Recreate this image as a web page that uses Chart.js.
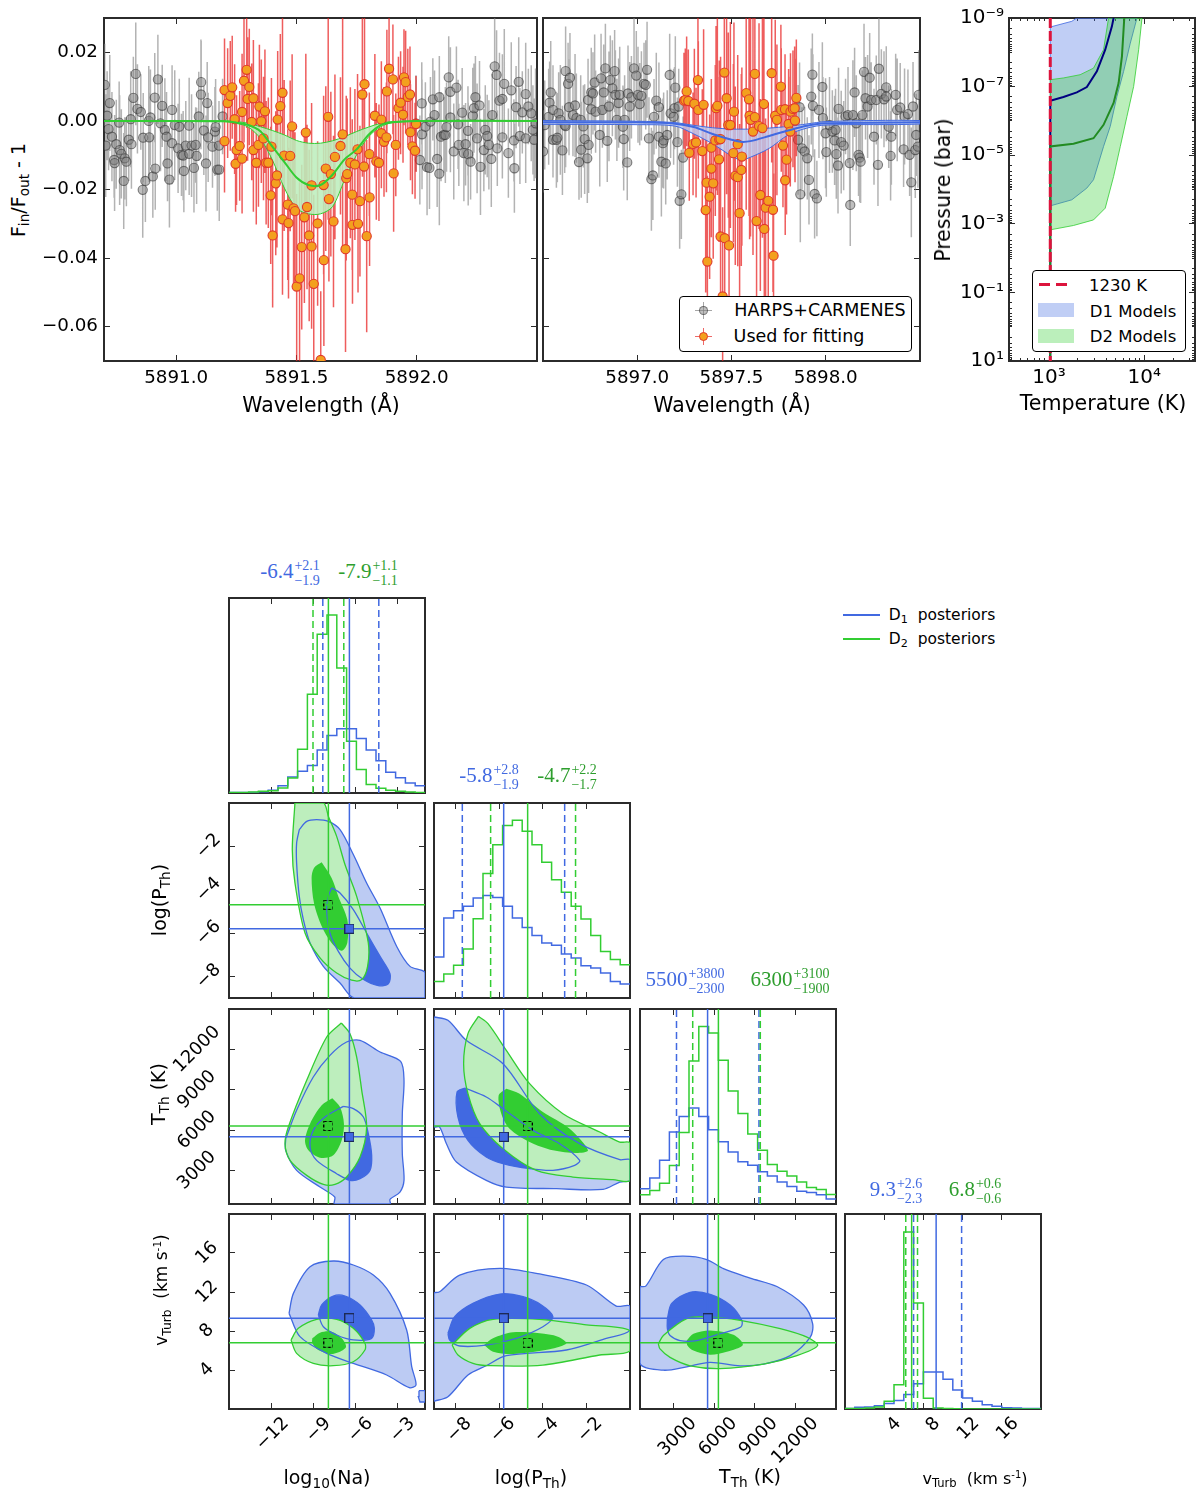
<!DOCTYPE html>
<html>
<head>
<meta charset="utf-8">
<title>Na transmission fits and posteriors</title>
<script src="https://cdn.jsdelivr.net/npm/chart.js@4"></script>
<style>
  body { margin: 0; background: #fff; width: 1200px; height: 1494px; position: relative; overflow: hidden; font-family: "DejaVu Sans", sans-serif; color: #000; }
  canvas { position: absolute; }
  .t { position: absolute; white-space: nowrap; transform: translate(-50%, -50%); z-index: 3; }
  .t sub { font-size: 72%; vertical-align: -0.3em; line-height: 0; }
  .t sup { font-size: 62%; vertical-align: 0.55em; line-height: 0; }
  .stat { font-family: "Liberation Serif", serif; font-size: 21px; }
  .stack { display: inline-block; vertical-align: middle; font-size: 14px; line-height: 15px; text-align: left; margin-left: 1px; }
  .stack b { display: block; font-weight: normal; }
  .box { position: absolute; background: #fff; border: 1.5px solid #000; border-radius: 4px; box-sizing: border-box; z-index: 2; }
  .mk { position: absolute; z-index: 3; }
</style>
</head>
<body>
<script>
// panel 1: D2 line, grey = out of fit, orange = used for fitting
const grayWaveD2 = [5890.703,5890.713,5890.724,5890.719,5890.707,5890.733,5890.742,5890.744,5890.751,5890.763,5890.765,5890.772,5890.782,5890.786,5890.793,5890.803,5890.814,5890.811,5890.822,5890.832,5890.839,5890.853,5890.861,5890.863,5890.872,5890.886,5890.888,5890.893,5890.903,5890.911,5890.913,5890.924,5890.935,5890.942,5890.953,5890.960,5890.964,5890.972,5890.983,5890.983,5890.994,5891.008,5891.013,5891.022,5891.029,5891.032,5891.040,5891.054,5891.054,5891.064,5891.074,5891.081,5891.085,5891.094,5891.104,5891.103,5891.115,5891.124,5891.129,5891.133,5891.151,5891.161,5891.164,5891.171,5891.179,5891.178,5891.193,
  5891.997,5892.013,5892.021,5892.022,5892.036,5892.043,5892.053,5892.057,5892.067,5892.074,5892.085,5892.094,5892.094,5892.101,5892.113,5892.119,5892.124,5892.133,5892.140,5892.140,5892.154,5892.165,5892.172,5892.175,5892.189,5892.196,5892.203,5892.214,5892.213,5892.224,5892.233,5892.238,5892.244,5892.251,5892.261,5892.265,5892.279,5892.285,5892.293,5892.300,5892.310,5892.314,5892.324,5892.332,5892.335,5892.344,5892.356,5892.356,5892.364,5892.381,5892.393,5892.404,5892.406,5892.413,5892.424,5892.429,5892.439,5892.453,5892.453,5892.464,5892.476,5892.483,5892.488,5892.494];
const grayFluxD2 = [.0105,.0015,.0052,-.0024,-.0072,-.0046,-.0114,-.0123,-.0068,-.0005,-.0085,-.0096,-.0175,-.0109,-.0119,-.0055,-.0068,.0005,.0067,.0137,.0035,.0026,-.0201,-.0049,-.0175,0,-.0048,.0010,-.0162,.0068,-.0139,.0121,-.0007,.0044,-.0026,-.0046,-.0124,-.0171,.0032,-.0065,-.0012,-.0080,-.0017,-.0099,-.0101,-.0146,-.0072,-.0014,-.0096,-.0072,-.0137,-.0070,-.0102,.0013,.0113,.0077,-.0028,-.0124,.0052,-.0048,-.0075,-.0031,-.0018,-.0142,-.0142,-.0072,.0013,
  -.0007,-.0114,.0051,-.0039,-.0017,-.0135,-.0137,-.0002,.0063,.0017,-.0111,.0069,-.0154,-.0046,-.0041,-.0041,-.0018,.0127,.0010,.0085,-.0089,.0097,-.0010,-.0070,.0024,-.0094,-.0068,-.0097,-.0029,-.0119,.0015,.0037,.0069,-.0051,.0045,-.0134,-.0085,-.0026,-.0044,-.0070,-.0111,.0017,.0159,.0134,-.0080,.0059,.0064,-.0048,.0108,-.0094,.0089,-.0057,-.0138,.0040,.0114,-.0044,.0025,.0078,-.0051,.0042,.0022,-.0026,-.0055,-.0007];
const fitWaveD2 = [5891.201,5891.201,5891.214,5891.225,5891.233,5891.243,5891.247,5891.251,5891.264,5891.274,5891.274,5891.282,5891.293,5891.297,5891.304,5891.314,5891.321,5891.321,5891.333,5891.342,5891.346,5891.354,5891.363,5891.369,5891.374,5891.383,5891.393,5891.396,5891.401,5891.414,5891.419,5891.422,5891.433,5891.442,5891.442,5891.449,5891.464,5891.467,5891.474,5891.482,5891.488,5891.494,5891.501,5891.513,5891.522,5891.533,5891.539,5891.544,5891.553,5891.563,5891.563,5891.572,5891.588,5891.601,5891.613,5891.614,5891.622,5891.632,5891.635,5891.643,5891.654,5891.660,5891.683,5891.692,5891.704,5891.707,5891.711,5891.724,5891.732,5891.733,5891.743,5891.754,5891.756,5891.764,5891.774,5891.781,5891.783,5891.792,5891.803,5891.804,5891.826,5891.832,5891.843,5891.853,5891.853,5891.864,5891.874,5891.876,5891.885,5891.901,5891.904,5891.913,5891.924,5891.933,5891.943,5891.947,5891.954,5891.963,5891.972,5891.974,5891.982,5891.993,5891.997];
const fitFluxD2 = [.0090,-.0059,.0052,.0073,.0098,.0005,-.0125,-.0085,-.0073,.0026,-.0110,.0117,.0149,.0064,.0099,-.0003,.0066,-.0085,-.0122,-.0070,.0042,-.0001,-.0051,.0028,-.0122,-.0122,-.0217,-.0075,-.0334,-.0182,-.0159,.0004,.0043,.0082,-.0287,-.0101,-.0244,-.0298,-.0102,-.0016,-.0255,-.0263,-.0483,-.0459,-.0368,-.0281,-.0034,-.0251,-.0334,-.0366,-.0188,-.0475,-.0299,-.0697,-.0187,-.0406,-.0139,.0012,-.0228,-.0155,-.0293,-.0105,-.0073,-.0039,-.0374,-.0167,-.0155,-.0122,-.0215,-.0303,-.0127,-.0083,-.0300,-.0234,.0077,-.0133,.0107,-.0336,-.0097,-.0223,.0015,-.0118,-.0122,.0004,-.0036,-.0061,-.0048,.0086,.0152,.0121,-.0153,-.0070,.0037,.0053,.0018,.0127,.0113,.0070,.0077,-.0033,-.0074,-.0087,-.0009];
const fitErrD2 = [.015,.015,.016,.016,.015,.016,.014,.016,.016,.017,.016,.018,.017,.018,.017,.017,.017,.018,.018,.018,.018,.018,.018,.018,.018,.019,.020,.020,.021,.021,.021,.020,.021,.024,.022,.022,.022,.022,.022,.021,.023,.023,.027,.028,.024,.025,.023,.024,.025,.024,.024,.026,.024,.020,.026,.025,.024,.030,.024,.024,.025,.024,.020,.034,.030,.024,.022,.022,.022,.023,.022,.022,.020,.022,.024,.020,.024,.028,.018,.020,.018,.017,.017,.017,.016,.016,.016,.018,.016,.016,.017,.015,.015,.015,.014,.014,.015,.014,.014,.014,.014,.014,.014];
const modelWaveD2 = [5890.7,5891.2,5891.25,5891.3,5891.35,5891.4,5891.45,5891.5,5891.55,5891.6,5891.65,5891.7,5891.75,5891.8,5891.85,5891.9,5892,5892.5];
const modelMedD2 = [0,-.0001,-.0005,-.0012,-.0030,-.0075,-.0120,-.0165,-.0187,-.0187,-.0157,-.0112,-.0083,-.0040,-.0012,-.0004,0,0];
const modelHighD2 = [0,0,-.0002,-.0007,-.0017,-.0028,-.0041,-.0057,-.0065,-.0065,-.0058,-.0046,-.0031,-.0018,-.0007,-.0002,0,0];
const modelLowD2 = [0,-.0002,-.0007,-.0018,-.0051,-.0114,-.0196,-.0255,-.0271,-.0271,-.0250,-.0172,-.0099,-.0046,-.0017,-.0005,-.0001,0];

// panel 2: D1 line
const grayWaveD1 = [5896.500,5896.509,5896.530,5896.535,5896.541,5896.553,5896.553,5896.571,5896.576,5896.583,5896.592,5896.603,5896.615,5896.620,5896.620,5896.633,5896.643,5896.638,5896.659,5896.670,5896.677,5896.691,5896.703,5896.700,5896.714,5896.721,5896.735,5896.742,5896.739,5896.756,5896.765,5896.756,5896.774,5896.779,5896.801,5896.808,5896.815,5896.822,5896.831,5896.841,5896.850,5896.857,5896.868,5896.880,5896.884,5896.892,5896.901,5896.907,5896.924,5896.928,5896.933,5896.947,5896.951,5896.960,5896.969,5896.983,5896.995,5897.004,5897.013,5897.022,5897.036,5897.045,5897.052,5897.062,5897.075,5897.083,5897.089,5897.101,5897.115,5897.115,5897.128,5897.136,5897.140,5897.151,5897.159,5897.172,5897.177,5897.193,5897.198,5897.202,5897.213,5897.220,5897.225,5897.234,5897.243,
  5897.853,5897.861,5897.865,5897.874,5897.888,5897.902,5897.911,5897.923,5897.929,5897.932,5897.941,5897.953,5897.964,5897.982,5897.985,5897.999,5898.003,5898.020,5898.035,5898.047,5898.052,5898.056,5898.065,5898.068,5898.082,5898.095,5898.105,5898.118,5898.127,5898.130,5898.144,5898.153,5898.162,5898.174,5898.180,5898.185,5898.194,5898.203,5898.211,5898.222,5898.233,5898.241,5898.256,5898.268,5898.277,5898.282,5898.295,5898.309,5898.321,5898.321,5898.334,5898.344,5898.348,5898.371,5898.379,5898.395,5898.413,5898.418,5898.436,5898.445,5898.454,5898.463,5898.475,5898.480,5898.493,5898.489];
const grayFluxD1 = [-.0089,-.0012,.0012,.0053,.0083,.0032,-.0055,-.0055,-.0049,.0022,.0003,-.0086,-.0012,-.0015,.0145,.0108,.0126,.0040,.0017,.0045,.0008,-.0120,-.0084,.0003,-.0016,-.0053,-.0109,-.0070,.0061,.0083,.0080,.0034,.0112,.0027,-.0041,.0124,.0032,.0083,.0153,-.0058,.0042,.0119,.0095,.0145,.0076,.0003,.0052,.0076,-.0017,-.0053,.0003,-.0121,.0080,.0042,.0069,.0153,.0132,.0076,.0049,.0073,.0108,.0105,.0149,-.0051,-.0170,-.0159,.0012,.0059,.0040,-.0046,-.0119,-.0065,-.0057,-.0124,-.0041,.0134,.0022,.0012,.0037,.0097,-.0062,.0042,-.0233,-.0214,-.0107,
  -.0055,.0040,-.0214,-.0080,-.0089,-.0109,-.0172,.0071,.0135,.0044,-.0213,-.0226,.0032,.0099,.0008,-.0036,-.0091,-.0012,-.0031,-.0057,-.0026,-.0097,-.0130,.0035,-.0062,-.0072,.0013,.0017,-.0123,-.0245,.0017,.0083,-.0007,-.0099,-.0107,-.0119,.0017,.0143,.0066,.0042,.0126,.0061,-.0046,.0061,-.0128,.0152,.0079,.0063,.0098,.0071,-.0017,-.0102,-.0046,.0076,.0032,.0039,-.0083,.0013,.0020,-.0099,-.0179,.0042,-.0085,-.0041,.0076,-.0075];
const fitWaveD1 = [5897.248,5897.255,5897.262,5897.271,5897.276,5897.296,5897.303,5897.312,5897.322,5897.324,5897.345,5897.352,5897.363,5897.368,5897.372,5897.384,5897.393,5897.393,5897.403,5897.414,5897.418,5897.425,5897.435,5897.434,5897.442,5897.442,5897.453,5897.464,5897.462,5897.474,5897.483,5897.487,5897.494,5897.510,5897.513,5897.520,5897.533,5897.533,5897.543,5897.552,5897.555,5897.578,5897.593,5897.596,5897.601,5897.614,5897.624,5897.624,5897.633,5897.646,5897.653,5897.664,5897.672,5897.674,5897.681,5897.695,5897.713,5897.720,5897.723,5897.732,5897.741,5897.762,5897.764,5897.773,5897.784,5897.785,5897.792,5897.803,5897.812,5897.813,5897.826,5897.835,5897.837,5897.844];
const fitFluxD1 = [.0059,.0061,.0086,.0058,-.0093,-.0067,.0050,-.0063,.0119,.0032,-.0088,.0047,-.0260,-.0180,-.0410,-.0221,-.0078,-.0139,-.0182,-.0057,.0037,.0044,-.0054,-.0112,-.0337,-.0053,-.0512,-.0342,.0141,.0066,-.0012,-.0363,-.0012,-.0094,.0027,-.0160,-.0068,-.0164,-.0269,-.0143,-.0104,.0081,.0063,.0015,.0003,-.0031,.0011,.0137,-.0292,-.0015,-.0216,-.0021,.0049,-.0315,-.0253,-.0233,.0139,-.0259,-.0393,.0015,.0003,.0100,.0032,-.0072,.0034,-.0173,-.0113,-.0009,-.0031,.0027,.0035,.0037,.0001,.0067];
const fitErrD1 = [.014,.015,.016,.015,.014,.015,.016,.016,.022,.020,.018,.022,.024,.023,.025,.024,.020,.020,.022,.022,.024,.026,.023,.024,.026,.024,.026,.027,.025,.028,.027,.026,.030,.026,.026,.026,.026,.026,.026,.028,.026,.034,.034,.036,.034,.036,.030,.032,.028,.030,.028,.032,.030,.026,.026,.028,.026,.024,.024,.028,.022,.018,.018,.018,.016,.016,.016,.016,.016,.017,.017,.018,.018,.017];
const modelWaveD1 = [5896.5,5897,5897.2,5897.3,5897.4,5897.5,5897.55,5897.6,5897.7,5897.8,5897.9,5898,5898.5];
const modelMedD1 = [-.0004,-.0004,-.0008,-.0018,-.0038,-.0055,-.0061,-.0059,-.0044,-.0028,-.0014,-.0007,-.0004];
const modelHighD1 = [.0001,-.0001,-.0005,-.0013,-.0020,-.0024,-.0024,-.0024,-.0021,-.0016,-.0009,-.0002,.0001];
const modelLowD1 = [-.0010,-.0011,-.0015,-.0038,-.0067,-.0102,-.0114,-.0106,-.0080,-.0041,-.0021,-.0012,-.0009];
const grayErrSample = [.012,.013,.014,.012,.015,.013,.011,.014,.013,.012,.016,.013,.014,.012,.013];

const fluxTicks = [.02,0,-.02,-.04,-.06];
const waveTicksD2 = [5891,5891.5,5892];
const waveTicksD1 = [5897,5897.5,5898];

// panel 3: temperature-pressure profiles, the dashed line sits just right of the 10^3 tick
const tpIso = 1030;
const tpD1T = [1030,1732,1955,8371,7122,6060,5157,4385,3732,2928,2492,1732,1030];
const tpD1P = [1.83e-9,1.25e-9,1e-9,1e-9,5.4e-9,3.6e-8,1.93e-7,1.45e-6,5.56e-6,5.2e-5,9.1e-5,2e-4,3e-4];
const tpD2T = [1030,1416,2120,2928,3732,4213,9450,8717,7723,6568,5590,4756,3886,2928,1804,1030];
const tpD2P = [6.3e-8,5.6e-8,4.5e-8,2.9e-8,8.4e-9,1e-9,1e-9,8.4e-9,9.9e-8,7.4e-7,5.6e-6,4.2e-5,3.5e-4,7.7e-4,1.12e-3,1.5e-3];
const tpMedD1T = [1030,1030,1416,1955,2492,3175,3886,4567,4756];
const tpMedD1P = [10,2.6e-7,2e-7,1.48e-7,1.03e-7,3.6e-8,8.4e-9,1.75e-9,1e-9];
const tpMedD2T = [1030,1030,1804,2928,3732,4756,5369,5820,6158];
const tpMedD2P = [10,5.56e-6,4.65e-6,3.2e-6,1.3e-6,3e-7,7.9e-8,1.31e-8,1e-9];
const tpXTicks = [1000,10000];
const tpXLabels = ['10³','10⁴'];
const tpYTicks = [1e-9,1e-7,1e-5,1e-3,1e-1,10];
const tpYLabels = ['10⁻⁹','10⁻⁷','10⁻⁵','10⁻³','10⁻¹','10¹'];

// corner plot: log10(Na), log(PTh), TTh, vTurb
const paramMin = [-15,-9,500,0];
const paramMax = [-1,0,15000,20];
const paramTicks = [[-12,-9,-6,-3],[-8,-6,-4,-2],[3000,6000,9000,12000],[4,8,12,16]];
const d1Median = [-6.4,-5.8,5500,9.3];
const d1Plus = [2.1,2.8,3800,2.6];
const d1Minus = [1.9,1.9,2300,2.3];
const d2Median = [-7.9,-4.7,6300,6.8];
const d2Plus = [1.1,2.2,3100,.6];
const d2Minus = [1.1,1.7,1900,.6];

const histNaD1 = [.2,.2,.3,.7,1.4,3.7,8.2,11.1,14.1,22.1,29.5,33,33,28,22.1,16.5,10.7,7.8,5.1,3.7];
const histNaD2 = [.2,.3,.5,.9,1.2,2.6,7.7,22.5,50.6,81.4,91.3,64.1,26.6,12,4.4,2.4,1.4,.9,.5,.3];
const histPD1 = [21,41,44.8,47,51.3,52.6,51.6,47,41,36.2,32,28.2,27,22.6,20.5,16.6,15.4,12.8,8.5,7.2];
const histPD2 = [8.5,12.3,16.8,25.1,40.7,63.8,78.6,88.4,91.1,85.5,78.6,69.6,60.7,54.2,47,40.5,32,23.9,19.7,17.1];
const histTD1 = [7.8,13.3,22.4,36.9,44.9,49.2,44.9,38.1,31.9,26.7,21.7,19.9,16.5,14.4,11.3,9,6.6,5.9,4.7,2.6];
const histTD2 = [4.7,6.9,10.7,19.8,36.7,73.3,91,87.7,73.7,57.9,46.4,35.9,27.6,20.3,16.8,14.4,11.3,8.5,7.5,4.9];
const histVD1 = [.2,.9,1,1.7,2.8,4.3,7.4,13,19,19,15.2,9.7,5.7,4,2.2,1.4,.7,.5,.2,.2];
const histVD2 = [.2,.3,.5,1,4,12.5,90.8,54.3,5.5,.5,.2,.1,0,0,0,0,0,0,0,0];

// contours, x list then y list. outer = 2 sigma, inner = 1 sigma
const naPD1OuterX = [-9.98,-9.45,-8.74,-7.9,-7.07,-6.12,-5.17,-4.21,-3.02,-2.07,-1,-1,-6.05,-7.07,-8.26,-9.21,-9.69,-9.98,-10.17,-10.17];
const naPD1OuterY = [-1.23,-.85,-.77,-.85,-1.23,-2.38,-3.69,-4.85,-6.62,-7.54,-7.82,-9,-9,-8.31,-7.54,-6.46,-5.38,-4.31,-2.77,-1.85];
const naPD1InnerX = [-7.67,-7.07,-6.12,-5.17,-4.21,-3.5,-3.62,-4.33,-5.45,-6.36,-7.19,-7.79,-8.02,-7.9];
const naPD1InnerY = [-3.92,-4.15,-4.92,-6,-7.08,-7.88,-8.35,-8.43,-8.12,-7.62,-6.85,-6,-4.92,-4.31];
const naPD2OuterX = [-10.29,-8.26,-7.9,-7.31,-6.71,-5.88,-5.05,-5.1,-5.52,-6.24,-7.31,-8.5,-9.57,-10.29,-10.48];
const naPD2OuterY = [0,0,-.62,-1.54,-2.85,-4.31,-6.46,-7.54,-8.15,-8.18,-7.85,-7.15,-6,-3.69,-2.15];
const naPD2InnerX = [-8.38,-7.67,-7.19,-6.55,-6.55,-6.95,-7.67,-8.38,-8.93,-9.1,-8.93];
const naPD2InnerY = [-2.74,-3.46,-4.31,-5.38,-6.46,-6.82,-6.46,-5.69,-4.62,-3.46,-3];

const naTD1OuterX = [-10.95,-10.17,-8.98,-7.79,-6.6,-5.64,-4.21,-2.74,-2.5,-2.62,-2.62,-2.5,-2.79,-3.5,-3.5,-7.45,-7.45,-8.5,-10.17,-10.95];
const naTD1OuterY = [5357,7464,9943,11554,12546,12670,11802,11108,9695,7216,4241,2257,1390,845,500,500,1018,1762,3002,4489];
const naTD1InnerX = [-6.83,-6.12,-5.4,-5.05,-4.81,-4.93,-5.64,-6.36,-7.31,-8.74,-9.21,-8.98,-8.14];
const naTD1InnerY = [7761,7588,6968,5728,4117,3002,2382,2257,2754,3745,4737,5976,6968];
const naTD2OuterX = [-6.98,-6.36,-5.88,-5.52,-5.17,-5.64,-6.6,-7.43,-8.26,-9.45,-10.64,-11,-10.76,-9.45,-8.02];
const naTD2OuterY = [13959,13166,11430,8951,6224,3993,2506,1960,1960,2630,3745,4985,6224,9695,12918];
const naTD2InnerX = [-7.62,-7.07,-6.79,-6.95,-7.55,-8.5,-9.33,-9.57,-9.21,-8.38];
const naTD2InnerY = [8356,7712,6472,5233,4117,3944,4489,5233,6472,7836];

const naVD1OuterX = [-10.71,-10.4,-9.21,-7.55,-6.12,-4.69,-3.5,-2.31,-1.95,-1.64,-2.12,-3.74,-6.12,-8.02,-9.93];
const naVD1OuterY = [9.81,11.86,14.6,15.18,14.77,13.74,11.86,8.1,4.34,2.46,2.19,3.49,4.68,5.71,7.42];
const naVD1BlobX = [-1.43,-1,-1,-1.36,-1.48];
const naVD1BlobY = [1.88,1.88,.72,.72,1.26];
const naVD1InnerX = [-8.62,-8.38,-7.55,-6.71,-5.64,-4.81,-4.62,-4.81,-6.12,-7.31,-8.26];
const naVD1InnerY = [9.64,10.67,11.59,11.59,10.67,9.13,8.27,7.25,7.08,7.59,8.44];
const naVD2OuterX = [-10.57,-10.05,-8.74,-7.31,-6.12,-5.29,-5.29,-6.12,-7.55,-8.98,-10.17];
const naVD2OuterY = [7.08,8.27,9.2,9.2,8.27,6.74,6.05,4.85,4.44,4.68,5.71];
const naVD2InnerX = [-9.05,-8.5,-7.67,-6.95,-6.64,-7.07,-7.79,-8.62,-9.05];
const naVD2InnerY = [7.25,7.83,7.93,7.25,6.39,5.88,5.64,6.05,6.74];

const pTD1OuterX = [-9,-8.36,-7.52,-5.83,-4.15,-2.31,-.47,0,0,-.47,-1.24,-3.38,-5.68,-6.6,-7.97,-8.43,-8.74,-9];
const pTD1OuterY = [14405,14157,12670,10934,7216,4985,3795,3795,2257,2134,1589,1638,1762,2257,3622,4985,6224,6270];
const pTD1InnerX = [-7.59,-6.6,-5.83,-4.45,-3.23,-2.31,-2.54,-3.54,-4.61,-5.83,-6.6,-7.44,-7.9,-7.94];
const pTD1InnerY = [9125,8455,7588,5976,4985,3745,3373,3002,3126,3497,3993,5233,6968,8827];
const pTD2OuterX = [-6.96,-6.52,-5.68,-4.61,-3.08,-1.39,-.47,0,0,-.78,-2.62,-4.3,-5.83,-6.9,-7.44,-7.64,-7.44];
const pTD2OuterY = [14455,13909,11926,9447,7216,5852,5109,5034,2257,2307,2506,3002,4613,6472,8703,10934,13166];
const pTD2InnerX = [-5.68,-5.07,-4,-2.77,-1.93,-2.46,-3.54,-4.61,-5.53,-5.91,-6.03];
const pTD2InnerY = [9075,8703,7340,6100,4489,4291,4489,5109,6100,7216,8579];

const pVD1OuterX = [-9,-8.74,-7.82,-5.98,-4.15,-2,-.63,0,0,-1.09,-2.92,-5.68,-6.6,-7.44,-8.36,-8.97,-9];
const pVD1OuterY = [11.93,12.03,13.74,14.43,13.85,12.72,10.56,10.56,8.1,7.25,6.05,5.47,4.44,3.49,1.26,.82,.82];
const pVD1InnerX = [-8.36,-8.05,-7.21,-5.98,-4.91,-4.07,-3.54,-4,-5.22,-6.6,-7.82,-8.28];
const pVD1InnerY = [7.76,9.47,10.84,11.79,11.52,10.67,9.47,8.44,7.25,6.56,6.46,7.08];
const pVD2OuterX = [-8.17,-7.36,-6.29,-4.15,-2,0,0,-1.39,-4,-6.44,-7.21,-7.9];
const pVD2OuterY = [6.56,8.27,9.2,9.2,8.62,8.03,5.95,5.54,4.51,4.44,4.68,5.54];
const pVD2InnerX = [-6.7,-6.29,-5.37,-4.15,-3.31,-2.92,-3.69,-5.37,-6.29];
const pVD2InnerY = [6.56,7.25,7.86,7.76,7.42,6.74,6.12,5.64,5.88];

const tVD1OuterX = [500,945,2229,3711,5440,6675,8651,10627,12603,13270,13097,11615,9639,7910,5687,3958,2229,500];
const tVD1OuterY = [12.56,12.63,15.33,15.67,15.33,14.39,13.43,12.56,10.66,8.75,7.37,5.47,4.6,4.43,4.78,4.33,3.98,4.71];
const tVD1InnerX = [2525,2847,4205,5687,7169,8034,7959,6428,4699,3464,2723,2525];
const tVD1InnerY = [9.27,10.83,11.97,11.76,10.66,9.1,8.41,7.72,7.02,7.02,7.54,8.24];
const tVD2OuterX = [1859,2229,3958,5440,7910,10874,12850,13640,12109,9639,6428,4205,2723,1982];
const tVD2OuterY = [6.68,7.54,9.27,9.45,9.1,8.24,7.37,6.51,5.47,4.6,4.15,4.43,5.29,6.16];
const tVD2InnerX = [3958,4452,5687,7416,8108,6922,5687,4452,4007];
const tVD2InnerY = [7.02,7.72,8.06,7.61,6.57,5.88,5.57,5.99,6.51];

const BLUE = '#4169e1', GREEN = '#32cd32', FRAME = '#2b2b2b';
const LIGHT_BLUE = '#bccbf3', LIGHT_GREEN = '#bdeebd';
const minus = v => String(v).replace('-', '\u2212');
const pts = (xs, ys) => xs.map((x, i) => ({ x, y: ys[i] }));
const closed = (xs, ys) => pts(xs.concat(xs[0]), ys.concat(ys[0]));

// one frame axis with inward ticks, its thickness is forced so the plot box lands where we want
function axis(pos, lim, vals, o = {}) {
  const len = o.len === undefined ? 6 : o.len;
  return {
    type: lim.log ? 'logarithmic' : 'linear',
    position: pos, min: lim.min, max: lim.max, reverse: !!lim.reverse,
    weight: o.fmt ? 1 : 0,
    border: { display: true, color: FRAME, width: 2 },
    grid: { drawOnChartArea: false, drawTicks: true, tickLength: -len, color: FRAME, lineWidth: 1 },
    ticks: {
      display: !!o.fmt, autoSkip: false, padding: len + (o.pad || 6), color: '#000',
      font: { family: 'DejaVu Sans', size: o.size || 18 }, callback: o.fmt,
      minRotation: o.rot || 0, maxRotation: o.rot || 0,
      crossAlign: o.cross || 'near', labelOffset: o.offset || 0
    },
    afterBuildTicks: s => { s.ticks = vals.map(v => ({ value: v })); },
    afterFit: s => {
      if (pos === 'bottom' || pos === 'top') s.height = o.thick || 0; else s.width = o.thick || 0;
      s.paddingLeft = s.paddingRight = s.paddingTop = s.paddingBottom = 0;
    }
  };
}

function panel(box, m, scales, datasets) {
  const c = document.createElement('canvas');
  c.width = box.w + m.l + m.r;
  c.height = box.h + m.t + m.b;
  c.style.left = (box.x - m.l) + 'px';
  c.style.top = (box.y - m.t) + 'px';
  document.body.appendChild(c);
  // later entries in the list paint on top
  datasets.forEach((d, i) => { d.order = datasets.length - i; d.pointRadius = d.pointRadius || 0; });
  return new Chart(c, {
    type: 'scatter',
    data: { datasets },
    options: {
      responsive: false, animation: false, events: [],
      layout: { autoPadding: false, padding: { left: 0, top: m.t, right: m.r, bottom: 0 } },
      plugins: { legend: { display: false }, tooltip: { enabled: false } },
      scales
    }
  });
}

const line = (data, color, width, extra = {}) => Object.assign({ data, showLine: true, borderColor: color, borderWidth: width, fill: false }, extra);
const shape = (data, color, extra = {}) => Object.assign({ data, showLine: true, fill: 'shape', backgroundColor: color, borderWidth: 0 }, extra);

function errorBars(xs, ys, errs, color) {
  const data = [];
  xs.forEach((x, i) => {
    const e = errs[i % errs.length];
    data.push({ x, y: ys[i] - e }, { x, y: ys[i] + e }, { x, y: null });
  });
  return line(data, color, 1.5);
}
const markers = (xs, ys, fill, edge, r) => ({ data: pts(xs, ys), showLine: false, pointRadius: r, pointBackgroundColor: fill, pointBorderColor: edge, pointBorderWidth: 1.1 });

function spectrum(box, m, xLim, yLim, wTicks, showY, g, f, e, model, color, lightColor) {
  const hi = pts(model.w, model.hi), lo = pts(model.w, model.lo).reverse();
  panel(box, m, {
    x: axis('bottom', xLim, wTicks, { fmt: v => v.toFixed(1), size: 18.3, thick: m.b, pad: 6 }),
    y: axis('left', yLim, fluxTicks, { fmt: showY ? v => minus(v.toFixed(2)) : undefined, size: 18.3, thick: m.l, pad: 6 }),
    xTop: axis('top', xLim, wTicks), yRight: axis('right', yLim, fluxTicks)
  }, [
    errorBars(g.w, g.f, grayErrSample, 'rgba(128,128,128,.6)'),
    markers(g.w, g.f, 'rgba(128,128,128,.5)', 'rgba(50,50,50,.6)', 4.6),
    errorBars(f.w, f.f, e, 'rgba(232,30,30,.72)'),
    shape(hi.concat(lo), lightColor, { borderWidth: 1, borderColor: color, tension: .3 }),
    markers(f.w, f.f, '#f3a01e', '#e0392b', 4.6),
    line(pts(model.w, model.med), color, 2, { tension: .3 })
  ]);
}

const fluxLim = { min: -.07, max: .03 };
spectrum({ x: 104, y: 18, w: 433, h: 343 }, { l: 70, r: 3, t: 3, b: 45 }, { min: 5890.7, max: 5892.5 }, fluxLim, waveTicksD2, true,
  { w: grayWaveD2, f: grayFluxD2 }, { w: fitWaveD2, f: fitFluxD2 }, fitErrD2,
  { w: modelWaveD2, med: modelMedD2, hi: modelHighD2, lo: modelLowD2 }, GREEN, 'rgba(189,238,189,.88)');
spectrum({ x: 543, y: 18, w: 377, h: 343 }, { l: 3, r: 3, t: 3, b: 45 }, { min: 5896.5, max: 5898.5 }, fluxLim, waveTicksD1, false,
  { w: grayWaveD1, f: grayFluxD1 }, { w: fitWaveD1, f: fitFluxD1 }, fitErrD1,
  { w: modelWaveD1, med: modelMedD1, hi: modelHighD1, lo: modelLowD1 }, BLUE, 'rgba(188,203,243,.8)');

// temperature-pressure panel, minor ticks sit on their own zero-thickness axes
function decadeTicks(lo, hi) {
  const out = [];
  for (let e = lo; e <= hi; e++) for (let k = 1; k < 10; k++) out.push(k * Math.pow(10, e));
  return out;
}
const tLim = { log: true, min: 380, max: 34000 };
const pLim = { log: true, min: 1e-9, max: 10, reverse: true };
const tMinor = decadeTicks(2, 4).filter(v => v >= 380 && v <= 34000);
const pMinor = decadeTicks(-9, 0).filter(v => v <= 10);
panel({ x: 1009, y: 18, w: 186, h: 343 }, { l: 70, r: 3, t: 12, b: 45 }, {
  x: axis('bottom', tLim, tpXTicks, { fmt: v => tpXLabels[tpXTicks.indexOf(v)], size: 20, thick: 45, pad: 5 }),
  y: axis('left', pLim, tpYTicks, { fmt: v => tpYLabels[tpYTicks.indexOf(v)], size: 20, thick: 70, pad: 5 }),
  xTop: axis('top', tLim, tpXTicks), yRight: axis('right', pLim, tpYTicks),
  xMinor: axis('bottom', tLim, tMinor, { len: 3 }), yMinor: axis('left', pLim, pMinor, { len: 3 }),
  xTopMinor: axis('top', tLim, tMinor, { len: 3 }), yRightMinor: axis('right', pLim, pMinor, { len: 3 })
}, [
  shape(closed(tpD1T, tpD1P), 'rgba(65,105,225,.33)', { borderWidth: 1, borderColor: 'rgba(65,105,225,.8)' }),
  shape(closed(tpD2T, tpD2P), 'rgba(50,205,50,.33)', { borderWidth: 1, borderColor: 'rgba(50,205,50,.8)' }),
  line(pts(tpMedD1T, tpMedD1P), '#000080', 2),
  line(pts(tpMedD2T, tpMedD2P), '#228b22', 2),
  line([{ x: tpIso, y: 1e-9 }, { x: tpIso, y: 10 }], '#dc143c', 3, { borderDash: [10, 3] })
]);

// corner plot
const cols = [229, 434, 640, 845], rows = [598, 803, 1009, 1214];
const yLabelPad = [0, 7, 3.4, 10.5];
const xLabelShift = [15, 13, 20, 14];
const limOf = i => ({ min: paramMin[i], max: paramMax[i] });
const contourTable = {
  '0,1': [naPD1OuterX, naPD1OuterY, naPD1InnerX, naPD1InnerY, naPD2OuterX, naPD2OuterY, naPD2InnerX, naPD2InnerY],
  '0,2': [naTD1OuterX, naTD1OuterY, naTD1InnerX, naTD1InnerY, naTD2OuterX, naTD2OuterY, naTD2InnerX, naTD2InnerY],
  '0,3': [naVD1OuterX, naVD1OuterY, naVD1InnerX, naVD1InnerY, naVD2OuterX, naVD2OuterY, naVD2InnerX, naVD2InnerY],
  '1,2': [pTD1OuterX, pTD1OuterY, pTD1InnerX, pTD1InnerY, pTD2OuterX, pTD2OuterY, pTD2InnerX, pTD2InnerY],
  '1,3': [pVD1OuterX, pVD1OuterY, pVD1InnerX, pVD1InnerY, pVD2OuterX, pVD2OuterY, pVD2InnerX, pVD2InnerY],
  '2,3': [tVD1OuterX, tVD1OuterY, tVD1InnerX, tVD1InnerY, tVD2OuterX, tVD2OuterY, tVD2InnerX, tVD2InnerY]
};
const histTable = [[histNaD1, histNaD2], [histPD1, histPD2], [histTD1, histTD2], [histVD1, histVD2]];

function cornerScales(c, r, m, yVals, yLim, yFmt) {
  return {
    x: axis('bottom', limOf(c), paramTicks[c], { fmt: r === 3 ? minus : undefined, rot: 45, size: 18, thick: m.b, pad: 4, offset: xLabelShift[c] }),
    y: axis('left', yLim, yVals, { fmt: yFmt, rot: 45, size: 18, thick: m.l, pad: yLabelPad[r], cross: 'center' }),
    xTop: axis('top', limOf(c), paramTicks[c]), yRight: axis('right', yLim, yVals)
  };
}

function squareMark(fill, stroke, dash) {
  const s = document.createElement('canvas');
  s.width = s.height = 10;
  const g = s.getContext('2d');
  if (fill) { g.fillStyle = fill; g.fillRect(1, 1, 8, 8); }
  g.strokeStyle = stroke; g.lineWidth = 1; g.setLineDash(dash);
  g.strokeRect(.5, .5, 9, 9);
  return s;
}
const blueMark = squareMark(BLUE, '#1d2a55', []);
const greenMark = squareMark(null, '#000', [3, 2]);

for (let r = 0; r < 4; r++) {
  for (let c = 0; c <= r; c++) {
    const box = { x: cols[c], y: rows[r], w: 196, h: 195 };
    const m = { l: c === 0 ? 72 : 12, r: 3, t: 3, b: r === 3 ? 62 : 3 };
    const xMin = paramMin[c], xMax = paramMax[c];
    if (c === r) {
      const step = (xMax - xMin) / 20;
      const hist = h => h.map((v, i) => ({ x: xMin + i * step, y: v })).concat({ x: xMax, y: h[h.length - 1] });
      const vLine = (x, color, extra) => line([{ x, y: 0 }, { x, y: 100 }], color, 1.5, extra);
      const dash = { borderDash: [7, 4] };
      panel(box, m, cornerScales(c, r, m, [], { min: 0, max: 100 }), [
        line(hist(histTable[c][0]), BLUE, 1.5, { stepped: true }),
        line(hist(histTable[c][1]), GREEN, 1.5, { stepped: true }),
        vLine(d1Median[c], BLUE), vLine(d2Median[c], GREEN),
        vLine(d1Median[c] - d1Minus[c], BLUE, dash), vLine(d1Median[c] + d1Plus[c], BLUE, dash),
        vLine(d2Median[c] - d2Minus[c], GREEN, dash), vLine(d2Median[c] + d2Plus[c], GREEN, dash)
      ]);
      continue;
    }
    const [d1ox, d1oy, d1ix, d1iy, d2ox, d2oy, d2ix, d2iy] = contourTable[c + ',' + r];
    const yMin = paramMin[r], yMax = paramMax[r];
    const round = { tension: .3 };
    const sets = [
      shape(closed(d1ox, d1oy), LIGHT_BLUE, round),
      shape(closed(d1ix, d1iy), BLUE, round),
      shape(closed(d2ox, d2oy), LIGHT_GREEN, round),
      shape(closed(d2ix, d2iy), GREEN, round),
      line(closed(d1ox, d1oy), BLUE, 1.3, round),
      line(closed(d1ix, d1iy), BLUE, 1.3, round),
      line(closed(d2ox, d2oy), GREEN, 1.3, round),
      line([{ x: d1Median[c], y: yMin }, { x: d1Median[c], y: yMax }], BLUE, 1.5),
      line([{ x: xMin, y: d1Median[r] }, { x: xMax, y: d1Median[r] }], BLUE, 1.5),
      line([{ x: d2Median[c], y: yMin }, { x: d2Median[c], y: yMax }], GREEN, 1.5),
      line([{ x: xMin, y: d2Median[r] }, { x: xMax, y: d2Median[r] }], GREEN, 1.5),
      { data: [{ x: d1Median[c], y: d1Median[r] }], showLine: false, pointRadius: 5, pointStyle: blueMark },
      { data: [{ x: d2Median[c], y: d2Median[r] }], showLine: false, pointRadius: 5, pointStyle: greenMark }
    ];
    if (c === 0 && r === 3) {
      sets.splice(1, 0, shape(closed(naVD1BlobX, naVD1BlobY), LIGHT_BLUE), line(closed(naVD1BlobX, naVD1BlobY), BLUE, 1.3));
    }
    panel(box, m, cornerScales(c, r, m, paramTicks[r], limOf(r), c === 0 ? minus : undefined), sets);
  }
}

// text that Chart.js has no slot for
function text(html, x, y, size, rot, color, cls) {
  const d = document.createElement('div');
  d.className = 't' + (cls ? ' ' + cls : '');
  d.innerHTML = html;
  d.style.left = x + 'px';
  d.style.top = y + 'px';
  if (size) d.style.fontSize = size + 'px';
  if (color) d.style.color = color;
  if (rot) d.style.transform = 'translate(-50%,-50%) rotate(' + rot + 'deg)';
  document.body.appendChild(d);
}
function block(cls, x, y, w, h, css) {
  const d = document.createElement('div');
  d.className = cls;
  d.style.cssText = 'left:' + x + 'px;top:' + y + 'px;width:' + w + 'px;height:' + h + 'px;' + (css || '');
  document.body.appendChild(d);
}

text('F<sub>in</sub>/F<sub>out</sub> - 1', 18, 190, 19, -90);
text('Wavelength (Å)', 321, 405, 20.4);
text('Wavelength (Å)', 732, 405, 20.4);
text('Pressure (bar)', 943, 190, 20.4, -90);
text('Temperature (K)', 1103, 403, 20.6);

text('log<sub>10</sub>(Na)', 327, 1477, 19);
text('log(P<sub>Th</sub>)', 531, 1477, 19);
text('T<sub>Th</sub> (K)', 750, 1476, 19);
text('v<sub>Turb</sub>&nbsp; (km s<sup>-1</sup>)', 975, 1478, 16);
text('log(P<sub>Th</sub>)', 159, 900, 19, -90);
text('T<sub>Th</sub> (K)', 158, 1094, 19, -90);
text('v<sub>Turb</sub>&nbsp; (km s<sup>-1</sup>)', 161, 1290, 17, -90);

const statX = [[290, 368], [489, 567], [685, 790], [896, 975]];
const statY = [573, 777, 981, 1191];
const statText = v => String(v);
for (let i = 0; i < 4; i++) {
  text(statText(d1Median[i]) + '<span class="stack"><b>+' + d1Plus[i] + '</b><b>\u2212' + d1Minus[i] + '</b></span>', statX[i][0], statY[i], 0, 0, BLUE, 'stat');
  text(statText(d2Median[i]) + '<span class="stack"><b>+' + d2Plus[i] + '</b><b>\u2212' + d2Minus[i] + '</b></span>', statX[i][1], statY[i], 0, 0, '#2e9e2e', 'stat');
}

// corner legend
block('mk', 843, 614, 37, 1.5, 'background:' + BLUE);
block('mk', 843, 638, 37, 1.5, 'background:' + GREEN);
text('D<sub>1</sub>&nbsp; posteriors', 942, 615, 15.5);
text('D<sub>2</sub>&nbsp; posteriors', 942, 639, 15.5);

// legend of panel 2
block('box', 679, 296, 233, 56);
const legendRow = (y, bar, fill, edge) => {
  block('mk', 695, y, 17, 1, 'background:' + bar);
  block('mk', 703, y - 8, 1, 17, 'background:' + bar);
  block('mk', 699, y - 4, 9, 9, 'box-sizing:border-box;border-radius:50%;background:' + fill + ';border:1px solid ' + edge);
};
legendRow(310, 'rgba(128,128,128,.7)', 'rgba(128,128,128,.5)', 'rgba(50,50,50,.55)');
legendRow(336, 'rgba(232,40,40,.7)', '#f3a01e', '#e0392b');
text('HARPS+CARMENES', 820, 310, 17.5);
text('Used for fitting', 799, 336, 17.5);

// legend of the temperature panel
block('box', 1032, 270, 154, 82);
block('mk', 1039, 283, 11, 3, 'background:#dc143c');
block('mk', 1056, 283, 11, 3, 'background:#dc143c');
block('mk', 1038, 303, 36, 14, 'background:rgba(65,105,225,.33)');
block('mk', 1038, 329, 36, 14, 'background:rgba(50,205,50,.33)');
text('1230 K', 1118, 285, 16.5);
text('D1 Models', 1133, 311, 16.5);
text('D2 Models', 1133, 336, 16.5);
</script>
</body>
</html>
